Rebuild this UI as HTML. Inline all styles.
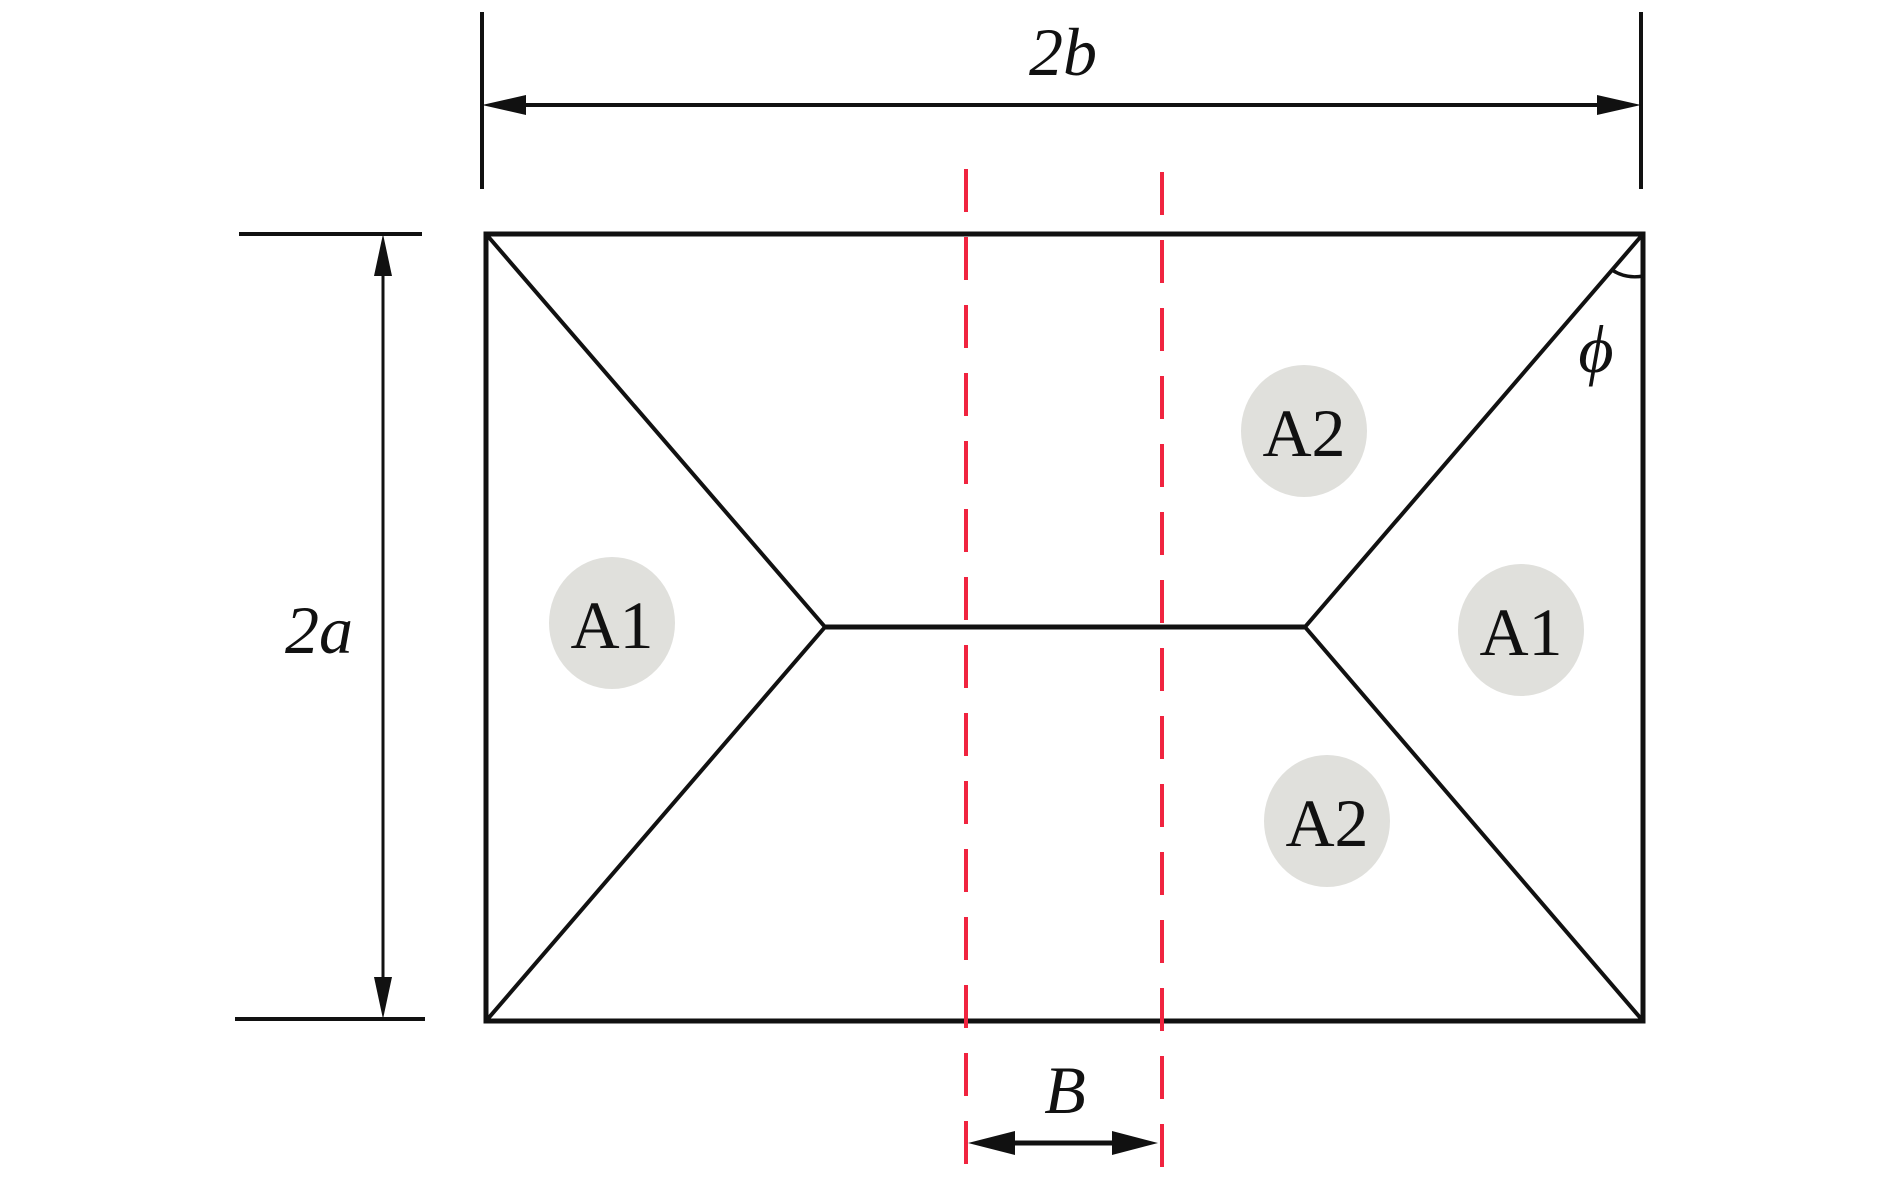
<!DOCTYPE html>
<html><head><style>html,body{margin:0;padding:0;background:#fff}svg{display:block}</style></head>
<body>
<svg width="1890" height="1185" viewBox="0 0 1890 1185" xmlns="http://www.w3.org/2000/svg">
<g stroke="#111" fill="none" stroke-linecap="butt">
<rect x="486" y="234" width="1157" height="787" stroke-width="5"/>
<polyline points="486,234 825,627 486,1021" stroke-width="4"/>
<polyline points="1643,234 1305,627 1643,1021" stroke-width="4"/>
<line x1="825" y1="627" x2="1305" y2="627" stroke-width="5"/>
<line x1="482" y1="12" x2="482" y2="189" stroke-width="4"/>
<line x1="1641" y1="12" x2="1641" y2="189" stroke-width="4"/>
<line x1="520" y1="105" x2="1605" y2="105" stroke-width="4"/>
<line x1="239" y1="234" x2="422" y2="234" stroke-width="4"/>
<line x1="235" y1="1019" x2="425" y2="1019" stroke-width="4"/>
<line x1="383" y1="270" x2="383" y2="985" stroke-width="3"/>
<line x1="1000" y1="1143" x2="1130" y2="1143" stroke-width="5"/>
<path d="M1612,270 A42,42 0 0 0 1643,276" stroke-width="3.5"/>
</g>
<g fill="#111">
<polygon points="482,105 526,95 526,115"/>
<polygon points="1641,105 1597,95 1597,115"/>
<polygon points="383,234 374,276 392,276"/>
<polygon points="383,1019 374,977 392,977"/>
<polygon points="968,1143 1015,1131 1015,1155"/>
<polygon points="1158,1143 1112,1131 1112,1155"/>
</g>
<g stroke="#f0243f" stroke-width="4" stroke-dasharray="43,25">
<line x1="966" y1="169" x2="966" y2="1185"/>
<line x1="1162" y1="172" x2="1162" y2="1185"/>
</g>
<g fill="#e0e0dc">
<ellipse cx="612" cy="623" rx="63" ry="66"/>
<ellipse cx="1304" cy="431" rx="63" ry="66"/>
<ellipse cx="1521" cy="630" rx="63" ry="66"/>
<ellipse cx="1327" cy="821" rx="63" ry="66"/>
</g>
<g font-family="Liberation Serif, serif" font-size="68" fill="#111" text-anchor="middle">
<text x="612" y="648">A1</text>
<text x="1304" y="456">A2</text>
<text x="1521" y="655">A1</text>
<text x="1327" y="846">A2</text>
<g font-style="italic">
<text x="1063" y="75">2b</text>
<text x="319" y="653">2a</text>
<text x="1065" y="1113">B</text>
<text x="1596" y="372">ϕ</text>
</g>
</g>
</svg>
</body></html>
